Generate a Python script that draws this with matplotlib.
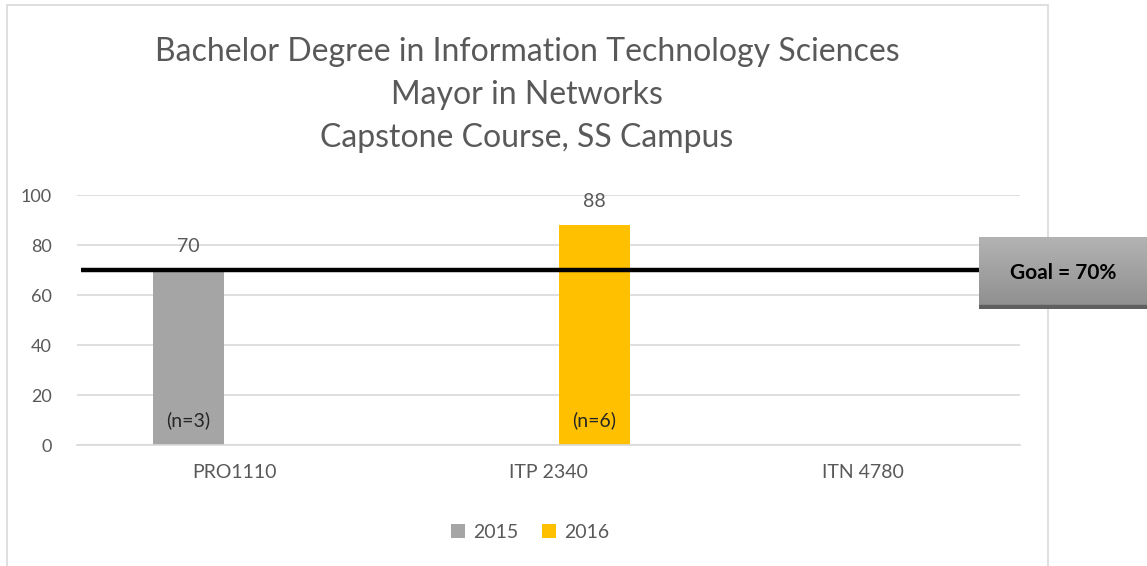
import numpy as np
import matplotlib.pyplot as plt
from matplotlib.patches import Rectangle
from matplotlib.colors import LinearSegmentedColormap

plt.rcParams['font.family'] = ['Lato', 'DejaVu Sans']

courses = ['PRO1110', 'ITP 2340', 'ITN 4780']
years = ['2015', '2016']
scores_2015 = [70, 0, 0]
scores_2016 = [0, 88, 0]
counts_2015 = ['(n=3)', '', '']
counts_2016 = ['', '(n=6)', '']
goal = 70

title_lines = ['Bachelor Degree in Information Technology Sciences',
               'Mayor in Networks',
               'Capstone Course, SS Campus']

grey = '#a5a5a5'
gold = '#ffc000'
text_grey = '#595959'

W, H = 1147, 566
fig = plt.figure(figsize=(W / 100, H / 100), dpi=100)
fig.patch.set_facecolor('white')

# chart frame
fig.patches.append(Rectangle((7 / W, -0.05), (1048 - 7) / W, 1.0 - 5 / H + 0.05,
                             transform=fig.transFigure, fill=False,
                             edgecolor='#d9d9d9', linewidth=1.2, zorder=-1))

ax = fig.add_axes([77 / W, 1 - 445 / H, (1020 - 77) / W, 250 / H])
x = np.arange(len(courses))
w = 0.226
off = 0.145
b1 = ax.bar(x - off, scores_2015, w, color=grey, label=years[0], zorder=2)
b2 = ax.bar(x + off, scores_2016, w, color=gold, label=years[1], zorder=2)

for bars, vals, ns in [(b1, scores_2015, counts_2015), (b2, scores_2016, counts_2016)]:
    for rect, v, n in zip(bars, vals, ns):
        cx = rect.get_x() + rect.get_width() / 2
        if v > 0:
            ax.annotate(str(v), (cx, v), xytext=(0, 17), textcoords='offset points',
                        ha='center', va='center', fontsize=14, color=text_grey)
        if n:
            ax.annotate(n, (cx, 0), xytext=(0, 18), textcoords='offset points',
                        ha='center', va='center', fontsize=14, color='#262626')

ax.set_xlim(-0.5, 2.5)
ax.set_ylim(0, 100)
ax.set_yticks(np.arange(0, 101, 20))
ax.set_xticks(x)
ax.set_xticklabels(courses)
ax.tick_params(axis='both', length=0, labelsize=13, labelcolor=text_grey)
ax.tick_params(axis='x', pad=14, labelsize=14)
ax.tick_params(axis='y', pad=18)
ax.grid(axis='y', color='#d9d9d9', linewidth=1.2, zorder=0)
for s in ['top', 'right', 'left']:
    ax.spines[s].set_visible(False)
ax.spines['bottom'].set_color('#d9d9d9')
ax.spines['bottom'].set_linewidth(1.2)

# goal line
ax.hlines(goal, -0.487, 2.37, color='black', linewidth=3.2, zorder=4, clip_on=False)

fig.text(527 / W, 1 - 95 / H, '\n'.join(title_lines), ha='center', va='center',
         fontsize=23, color=text_grey, linespacing=1.55)

leg = ax.legend(loc='center', bbox_to_anchor=(530 / W, 1 - 532 / H), bbox_transform=fig.transFigure,
                ncol=2, frameon=False, fontsize=14, handlelength=0.75, handleheight=0.75,
                handletextpad=0.4, columnspacing=1.2)
for t in leg.get_texts():
    t.set_color(text_grey)

# goal callout box with vertical shading
gax = fig.add_axes([979 / W, 1 - 309 / H, (W - 979) / W, 72 / H])
gax.set_zorder(5)
grad = np.linspace(0, 1, 100).reshape(-1, 1)
gax.imshow(grad, cmap=LinearSegmentedColormap.from_list('g', ['#b3b3b3', '#8e8e8e']),
           aspect='auto', extent=[0, 1, 0, 1], origin='upper')
gax.add_patch(Rectangle((0, 0), 1, 0.06, color='#5f5f5f', transform=gax.transAxes))
gax.set_xlim(0, 1)
gax.set_ylim(0, 1)
gax.axis('off')
gax.text(84 / (W - 979), 0.5, 'Goal = {}%'.format(goal), ha='center', va='center',
         fontsize=15, fontweight='bold', color='black')

fig.savefig('out.png', dpi=100)
